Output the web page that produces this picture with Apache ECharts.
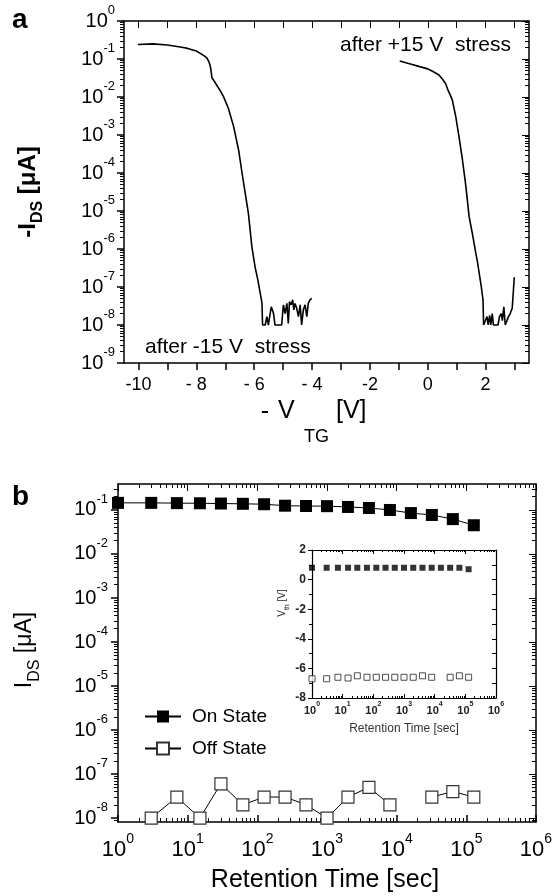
<!DOCTYPE html>
<html><head><meta charset="utf-8">
<script src="https://cdn.jsdelivr.net/npm/echarts@6/dist/echarts.min.js"></script>
<style>html,body{margin:0;padding:0;background:#fff}#c{width:552px;height:896px}</style>
</head><body><div id="c"></div>
<script>
const FONT = '"Liberation Sans", Arial, Helvetica, sans-serif';

// ---------- Panel a data ----------
const vNeg = [-10.02, -9.97, -9.5, -9.0, -8.5, -8.3, -8.0, -7.86, -7.7, -7.63, -7.55, -7.5, -7.46, -7.35, -7.2, -7.06, -6.89, -6.71, -6.54, -6.42, -6.31, -6.2, -6.08, -5.97, -5.87, -5.79, -5.73, -5.71, -5.62, -5.56, -5.51, -5.41, -5.33, -5.28, -5.05, -4.99, -4.93, -4.87, -4.82, -4.78, -4.72, -4.67, -4.63, -4.59, -4.53, -4.47, -4.41, -4.36, -4.30, -4.24, -4.18, -4.13, -4.07, -4.01];
const iNeg = [0.24, 0.26, 0.25, 0.234, 0.204, 0.19, 0.162, 0.141, 0.117, 0.105, 0.079, 0.056, 0.032, 0.024, 0.0158, 0.0102, 5.0e-3, 1.66e-3, 4.1e-4, 1.0e-4, 2.95e-5, 8.7e-6, 1.15e-6, 3.4e-7, 1.5e-7, 6.8e-8, 3.7e-8, 1e-8, 1e-8, 1.66e-8, 1e-8, 3.0e-8, 2.0e-8, 1e-8, 1e-8, 3.4e-8, 2.0e-8, 3.7e-8, 1.1e-8, 4.1e-8, 3.4e-8, 4.6e-8, 2.5e-8, 3.7e-8, 2.75e-8, 1.66e-8, 3.4e-8, 1e-8, 2.5e-8, 3.4e-8, 1.66e-8, 3.7e-8, 4.6e-8, 5.0e-8];
const vPos = [-0.97, -0.6, -0.28, 0.0, 0.18, 0.39, 0.53, 0.62, 0.7, 0.78, 0.85, 0.97, 1.08, 1.2, 1.31, 1.43, 1.54, 1.66, 1.71, 1.85, 1.91, 1.93, 1.99, 2.05, 2.09, 2.14, 2.18, 2.23, 2.27, 2.43, 2.48, 2.54, 2.58, 2.63, 2.68, 2.73, 2.79, 2.85, 2.92, 2.97, 2.99];
const iPos = [0.089, 0.074, 0.063, 0.055, 0.047, 0.038, 0.028, 0.0224, 0.0151, 0.0112, 8.3e-3, 3.0e-3, 9.1e-4, 2.2e-4, 5.0e-5, 7.1e-6, 2.6e-6, 7.8e-7, 5.0e-7, 1.02e-7, 4.6e-8, 1e-8, 1e-8, 1.66e-8, 1e-8, 1.8e-8, 1e-8, 2.0e-8, 1e-8, 1e-8, 1.66e-8, 2.0e-8, 1.3e-8, 3.0e-8, 1e-8, 1e-8, 1.66e-8, 2.0e-8, 2.75e-8, 1.02e-7, 1.8e-7];
const aXTicks = [-10, -8, -6, -4, -2, 0, 2];
const aXTickText = ['-10', '- 8', '- 6', '- 4', '-2', '0', '2'];

// ---------- Panel b data ----------
const times = [1, 3, 7, 15, 30, 62, 125, 250, 500, 1000, 2000, 4000, 8000, 16000, 32000, 64000, 128000];
const onState = [0.145, 0.145, 0.143, 0.142, 0.14, 0.138, 0.135, 0.125, 0.123, 0.122, 0.117, 0.111, 0.1, 0.085, 0.077, 0.062, 0.045];
const offState = [null, 1e-8, 3e-8, 1e-8, 6e-8, 2e-8, 3e-8, 3e-8, 2e-8, 1e-8, 3e-8, 5e-8, 2e-8, null, 3e-8, 4e-8, 3e-8];
const vthOn = [0.8, 0.8, 0.8, 0.8, 0.8, 0.8, 0.8, 0.8, 0.8, 0.8, 0.8, 0.8, 0.8, 0.8, 0.8, 0.8, 0.7];
const vthOff = [-6.7, -6.7, -6.6, -6.65, -6.5, -6.6, -6.6, -6.6, -6.6, -6.6, -6.6, -6.5, -6.6, null, -6.6, -6.5, -6.6];
const seriesNames = ['On State', 'Off State'];

// ---------- helpers ----------
function minorVals(lo, hi) {
  const out = [];
  for (let e = Math.floor(lo); e <= Math.ceil(hi); e++) {
    for (let k = 2; k <= 9; k++) { const v = e + Math.log10(k); if (v >= lo && v <= hi) out.push(v); }
  }
  return out;
}
function intVals(lo, hi) { const out = []; for (let v = Math.ceil(lo); v <= Math.floor(hi); v++) out.push(v); return out; }
function powLabel(v) {
  const l = Math.log10(v); const e = Math.round(l);
  if (Math.abs(l - e) > 0.02) return '';
  return '{b|10}{s|' + e + '}';
}
function expLabel(v) { return '{b|10}{s|' + Math.round(v) + '}'; }
function deco(grid, pos, min, max, vals, len, inside, showLine, lw) {
  return {type: 'value', gridIndex: grid, position: pos, min: min, max: max, silent: true,
    axisLine: {show: showLine, onZero: false, lineStyle: {color: '#000', width: lw}},
    axisTick: {show: true, customValues: vals, inside: inside, length: len, lineStyle: {color: '#000', width: 1}},
    axisLabel: {show: false}, splitLine: {show: false}, minorTick: {show: false}};
}
function T(x, y, text, size, o) {
  o = o || {};
  return {type: 'text', x: x, y: y, rotation: o.rot || 0, silent: true, z: 100,
    style: {text: text, fontSize: size, fontFamily: FONT, fontWeight: o.bold ? 'bold' : 'normal', fill: o.color || '#000',
      textAlign: o.align || 'left', align: o.align || 'left', textVerticalAlign: 'middle', verticalAlign: 'middle', rich: o.rich}};
}

const xAxes = [], yAxes = [];
const addX = a => (xAxes.push(a), xAxes.length - 1);
const addY = a => (yAxes.push(a), yAxes.length - 1);
const line = w => ({onZero: false, lineStyle: {color: '#000', width: w}});

// Panel a axes
const ax = addX({type: 'value', gridIndex: 0, position: 'bottom', min: -10.5, max: 3.5,
  axisLine: line(1.5),
  axisTick: {customValues: intVals(-10.5, 3.5), inside: false, length: 7, lineStyle: {color: '#000', width: 1.5}},
  axisLabel: {customValues: aXTicks, formatter: v => aXTickText[aXTicks.indexOf(Math.round(v))] || '', fontSize: 18, color: '#000', fontFamily: FONT, margin: 13},
  splitLine: {show: false}});
addX(deco(0, 'top', -10.5, 3.5, intVals(-10.5, 3.5), 7, true, true, 1.5));
const richA = {b: {fontSize: 20, lineHeight: 34, verticalAlign: 'middle', color: '#000', fontFamily: FONT},
               s: {fontSize: 13, lineHeight: 14, verticalAlign: 'top', color: '#000', fontFamily: FONT}};
const ay = addY({type: 'log', logBase: 10, gridIndex: 0, position: 'left', min: 1e-9, max: 1, interval: 1,
  axisLine: line(1.5), axisTick: {inside: false, length: 7, lineStyle: {color: '#000', width: 1.5}},
  axisLabel: {formatter: powLabel, margin: 9, rich: richA}, splitLine: {show: false}, minorTick: {show: false}});
addY(deco(0, 'left', -9, 0, minorVals(-9, 0), 4, false, false, 1));
addY(deco(0, 'right', -9, 0, intVals(-9, 0), 7, true, true, 1.5));
addY(deco(0, 'right', -9, 0, minorVals(-9, 0), 4, true, false, 1));

// Panel b axes
const byMinE = -8.09, byMaxE = -0.41;
const richBX = {b: {fontSize: 22, lineHeight: 36, verticalAlign: 'middle', color: '#000', fontFamily: FONT},
                s: {fontSize: 14, lineHeight: 14, verticalAlign: 'top', color: '#000', fontFamily: FONT}};
const richBY = {b: {fontSize: 20, lineHeight: 34, verticalAlign: 'middle', color: '#000', fontFamily: FONT},
                s: {fontSize: 13, lineHeight: 14, verticalAlign: 'top', color: '#000', fontFamily: FONT}};
const bx = addX({type: 'log', logBase: 10, gridIndex: 1, position: 'bottom', min: 1, max: 1e6, interval: 1,
  axisLine: line(1.5), axisTick: {inside: true, length: 7, lineStyle: {color: '#000', width: 1.5}},
  axisLabel: {formatter: powLabel, margin: 10, rich: richBX}, splitLine: {show: false}, minorTick: {show: false}});
addX(deco(1, 'bottom', 0, 6, minorVals(0, 6), 4, true, false, 1));
addX(deco(1, 'top', 0, 6, intVals(0, 6), 7, true, true, 1.5));
addX(deco(1, 'top', 0, 6, minorVals(0, 6), 4, true, false, 1));
// data axis (log), hidden; labels/ticks are drawn by an exponent-space axis aligned with it
const by = addY({type: 'log', logBase: 10, show: false, gridIndex: 1, position: 'left', min: Math.pow(10, byMinE), max: Math.pow(10, byMaxE)});
addY({type: 'value', gridIndex: 1, position: 'left', min: byMinE, max: byMaxE, silent: true,
  axisLine: line(1.5),
  axisTick: {customValues: intVals(byMinE, byMaxE), inside: false, length: 7, lineStyle: {color: '#000', width: 1.5}},
  axisLabel: {customValues: intVals(byMinE, byMaxE), formatter: expLabel, margin: 10, rich: richBY},
  splitLine: {show: false}, minorTick: {show: false}});
addY(deco(1, 'left', byMinE, byMaxE, minorVals(byMinE, byMaxE), 4, false, false, 1));
addY(deco(1, 'right', byMinE, byMaxE, intVals(byMinE, byMaxE), 7, true, true, 1.5));
addY(deco(1, 'right', byMinE, byMaxE, minorVals(byMinE, byMaxE), 4, true, false, 1));

// Inset axes
const richI = {b: {fontSize: 11, fontWeight: 'bold', lineHeight: 20, verticalAlign: 'middle', color: '#222', fontFamily: FONT},
               s: {fontSize: 7, fontWeight: 'bold', lineHeight: 8, verticalAlign: 'top', color: '#222', fontFamily: FONT}};
const ix = addX({type: 'log', logBase: 10, gridIndex: 2, position: 'bottom', min: 1, max: 1e6, interval: 1,
  axisLine: line(1.2), axisTick: {inside: true, length: 4, lineStyle: {color: '#000', width: 1}},
  axisLabel: {formatter: powLabel, margin: 3, rich: richI}, splitLine: {show: false}, minorTick: {show: false}});
addX(deco(2, 'bottom', 0, 6, minorVals(0, 6), 2, true, false, 1));
addX(deco(2, 'top', 0, 6, intVals(0, 6), 4, true, true, 1.2));
addX(deco(2, 'top', 0, 6, minorVals(0, 6), 2, true, false, 1));
const iy = addY({type: 'value', gridIndex: 2, position: 'left', min: -8, max: 2, interval: 2,
  axisLine: line(1.2), axisTick: {inside: false, length: 4, lineStyle: {color: '#000', width: 1}},
  minorTick: {show: true, splitNumber: 2, length: 3, lineStyle: {color: '#000', width: 1}},
  axisLabel: {fontSize: 12, fontWeight: 'bold', color: '#222', fontFamily: FONT, margin: 6}, splitLine: {show: false}});
addY(deco(2, 'right', -8, 2, intVals(-8, 2), 4, true, true, 1.2));

const option = {
  animation: false,
  backgroundColor: '#fff',
  textStyle: {fontFamily: FONT},
  grid: [
    {left: 124, top: 21, width: 405, height: 342, containLabel: false, outerBoundsMode: 'none'},
    {left: 118, top: 484, width: 418, height: 338, containLabel: false, outerBoundsMode: 'none'},
    {left: 312, top: 550, width: 184, height: 148, containLabel: false, outerBoundsMode: 'none'}
  ],
  xAxis: xAxes,
  yAxis: yAxes,
  legend: {data: seriesNames, orient: 'vertical', left: 139, top: 702, itemWidth: 36, itemHeight: 15, itemGap: 13,
    selectedMode: false, textStyle: {fontSize: 19, color: '#000', fontFamily: FONT, padding: [0, 0, 0, 6]}},
  series: [
    {type: 'line', name: 'after -15 V', xAxisIndex: ax, yAxisIndex: ay, data: vNeg.map((v, i) => [v, iNeg[i]]),
      symbol: 'none', lineStyle: {color: '#000', width: 1.6}, silent: true},
    {type: 'line', name: 'after +15 V', xAxisIndex: ax, yAxisIndex: ay, data: vPos.map((v, i) => [v, iPos[i]]),
      symbol: 'none', lineStyle: {color: '#000', width: 1.6}, silent: true},
    {type: 'line', name: seriesNames[0], xAxisIndex: bx, yAxisIndex: by, data: times.map((t, i) => [t, onState[i]]),
      symbol: 'rect', symbolSize: 12, showAllSymbol: true, connectNulls: false, clip: false,
      itemStyle: {color: '#000'}, lineStyle: {color: '#000', width: 1}, silent: true},
    {type: 'line', name: seriesNames[1], xAxisIndex: bx, yAxisIndex: by, data: times.map((t, i) => [t, offState[i]]),
      symbol: 'rect', symbolSize: 12, showAllSymbol: true, connectNulls: false, clip: false,
      itemStyle: {color: '#fff', borderColor: '#333', borderWidth: 1.2}, lineStyle: {color: '#000', width: 1}, silent: true},
    {type: 'scatter', name: 'Vth on', xAxisIndex: ix, yAxisIndex: iy, data: times.map((t, i) => [t, vthOn[i]]),
      symbol: 'rect', symbolSize: 6, itemStyle: {color: '#000'}, silent: true},
    {type: 'scatter', name: 'Vth off', xAxisIndex: ix, yAxisIndex: iy, data: times.map((t, i) => [t, vthOff[i]]).filter(d => d[1] != null),
      symbol: 'rect', symbolSize: 6, itemStyle: {color: '#fff', borderColor: '#222', borderWidth: 1}, silent: true}
  ],
  graphic: [
    T(12, 20, 'a', 28, {bold: true}),
    T(12, 497, 'b', 28, {bold: true}),
    T(340, 45, 'after +15 V  stress', 21),
    T(145, 347, 'after -15 V  stress', 21),
    T(31, 192, '{m|-I}{s|DS}{m| [μA]}', 24, {align: 'center', rot: Math.PI / 2, rich: {
      m: {fontSize: 24, fontWeight: 'bold', lineHeight: 30, verticalAlign: 'top', fontFamily: FONT, fill: '#000'},
      s: {fontSize: 16, fontWeight: 'bold', lineHeight: 16, verticalAlign: 'bottom', fontFamily: FONT, fill: '#000'}}}),
    T(265, 412, '-', 25, {align: 'center'}),
    T(278, 411, 'V', 25),
    T(304, 437, 'TG', 18),
    T(336, 411, '[V]', 25),
    T(28, 650, '{m|I}{s|DS}{m| [μA]}', 22, {align: 'center', rot: Math.PI / 2, rich: {
      m: {fontSize: 23, lineHeight: 30, verticalAlign: 'top', fontFamily: FONT, fill: '#000'},
      s: {fontSize: 16, lineHeight: 16, verticalAlign: 'bottom', fontFamily: FONT, fill: '#000'}}}),
    T(325, 880, 'Retention Time [sec]', 25, {align: 'center'}),
    T(284, 603, '{m|V}{s|th}{m| [V]}', 10, {align: 'center', rot: Math.PI / 2, rich: {
      m: {fontSize: 10, lineHeight: 14, verticalAlign: 'top', fontFamily: FONT, fill: '#222'},
      s: {fontSize: 7, lineHeight: 8, verticalAlign: 'bottom', fontFamily: FONT, fill: '#222'}}}),
    T(404, 729, 'Retention Time [sec]', 12, {align: 'center', color: '#333'})
  ]
};
const chart = echarts.init(document.getElementById('c'), null, {renderer: 'canvas'});
chart.setOption(option);
</script>
</body></html>
